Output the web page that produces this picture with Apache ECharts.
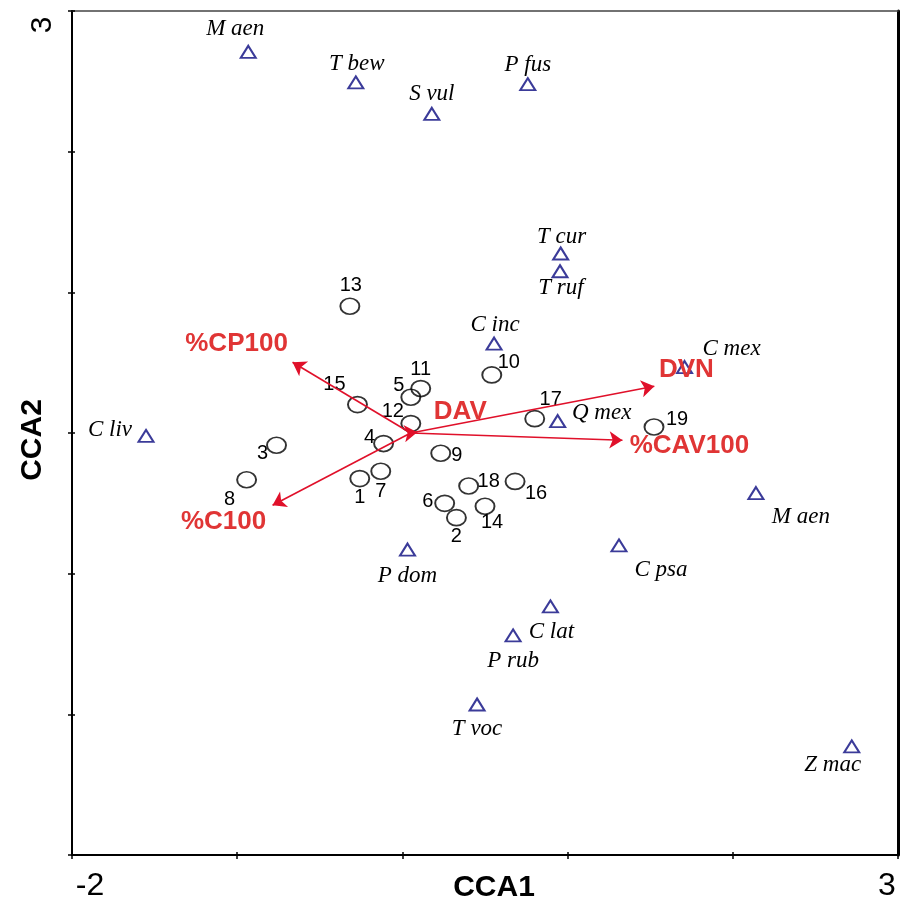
<!DOCTYPE html>
<html>
<head>
<meta charset="utf-8">
<script src="https://cdn.jsdelivr.net/npm/echarts@6/dist/echarts.min.js"></script>
<style>html,body{margin:0;padding:0;background:#fff}#chart{width:900px;height:901px}</style>
</head>
<body>
<div id="chart"></div>
<script>
// ---- data ----
const siteLabels = ['1','2','3','4','5','6','7','8','9','10','11','12','13','14','15','16','17','18','19'];
const siteCCA1 = [-0.258, 0.327, -0.762, -0.114, 0.051, 0.256, -0.131, -0.943, 0.232, 0.541, 0.111, 0.051, -0.318, 0.500, -0.272, 0.682, 0.801, 0.401, 1.523];
const siteCCA2 = [-0.324, -0.602, -0.087, -0.075, 0.254, -0.500, -0.272, -0.332, -0.144, 0.413, 0.316, 0.067, 0.901, -0.521, 0.202, -0.344, 0.102, -0.377, 0.043];

const speciesLabels = ['M aen','T bew','S vul','P fus','T cur','T ruf','C inc','Q mex','P dom','C mex','M aen','C psa','C liv','C lat','P rub','T voc','Z mac'];
const speciesCCA1 = [-0.933, -0.282, 0.178, 0.759, 0.958, 0.954, 0.555, 0.940, 0.031, 1.708, 2.140, 1.311, -1.552, 0.896, 0.670, 0.452, 2.720];
const speciesCCA2 = [2.710, 2.492, 2.269, 2.480, 1.276, 1.150, 0.636, 0.085, -0.829, 0.469, -0.427, -0.799, -0.021, -1.233, -1.439, -1.930, -2.228];

const envLabels = ['%CP100','%C100','DAV','DVN','%CAV100'];
const envCCA1 = [-0.665, -0.786, 0.09, 1.525, 1.332];
const envCCA2 = [0.503, -0.514, 0.005, 0.332, -0.052];
const envOrigin = [0.05, 0];

const xTickLabels = [-2, 3];
const yTickLabels = [3];

// ---- label placement (style, pixel offsets) ----
const siteLabelOffset = {
  '1':[0,19],'2':[0,19],'3':[-14,8],'4':[-14,-6],'5':[-12,-12],'6':[-17,-2],'7':[0,20],'8':[-17,20],
  '9':[16,2],'10':[17,-12],'11':[0,-19],'12':[-18,-12],'13':[1,-21],'14':[7,16],'15':[-23,-20],
  '16':[21,12],'17':[16,-19],'18':[20,-5],'19':[23,-7]
};
const speciesLabelOffset = [[-13,-23],[1,-19],[0,-20],[0,-19],[1,-17],[1,17],[1,-19],[44,-8],[0,26],[47,-18],[45,24],[42,25],[-36,-6],[1,26],[0,26],[0,24],[-19,19]];
const envLabelOffset = [[-56,-18],[-49,17],[43,-20],[32,-16],[67,6]];

const RED_LINE = '#e0102a';
const RED_TEXT = '#e03535';
const NAVY = '#0a0a80';

const chart = echarts.init(document.getElementById('chart'), null, {renderer:'canvas'});

const siteData = siteLabels.map((n,i)=>({
  name:n, value:[siteCCA1[i], siteCCA2[i]],
  label:{offset: siteLabelOffset[n]}
}));
const speciesData = speciesLabels.map((n,i)=>({
  name:n, value:[speciesCCA1[i], speciesCCA2[i]],
  label:{offset: speciesLabelOffset[i]}
}));
const arrowData = envLabels.map((n,i)=>({
  name:n, coords:[envOrigin, [envCCA1[i], envCCA2[i]]]
}));
const envLabelData = envLabels.map((n,i)=>({
  name:n, value:[envCCA1[i], envCCA2[i]],
  label:{offset: envLabelOffset[i]}
}));

const baseAxisHidden = {
  axisLine:{show:false}, axisLabel:{show:false}, axisTick:{show:false}, splitLine:{show:false}
};
const noBorder = {textBorderWidth:0, textBorderColor:'transparent', textShadowBlur:0, opacity:1};

const option = {
  animation:false,
  backgroundColor:'#fff',
  grid:{left:72, right:2, top:11, bottom:46, containLabel:false, outerBoundsMode:'none'},
  xAxis:[
    {
      type:'value', min:-2, max:3, interval:1, position:'bottom',
      name:'CCA1', nameLocation:'middle', nameGap:18, nameMoveOverlap:false,
      nameTextStyle:{fontFamily:'Liberation Sans', fontWeight:'bold', fontSize:30, color:'#000', padding:[0,0,0,18], verticalAlign:'top'},
      axisLine:{show:true, onZero:false, lineStyle:{color:'#000', width:2}},
      axisTick:{show:true, inside:false, length:4, lineStyle:{color:'#000', width:1.5}},
      splitLine:{show:false},
      axisLabel:{
        show:true, margin:15, showMinLabel:true, showMaxLabel:true,
        formatter:(v)=> xTickLabels.indexOf(v) === 0 ? '{l|' + v + '}' : (xTickLabels.indexOf(v) === 1 ? '{r|' + v + '}' : ''),
        rich:{
          l:{fontFamily:'Liberation Sans', fontSize:32, color:'#000', padding:[0,0,0,36]},
          r:{fontFamily:'Liberation Sans', fontSize:32, color:'#000', padding:[0,22,0,0]}
        }
      }
    },
    Object.assign({type:'value', min:-2, max:3, interval:1, position:'bottom'}, baseAxisHidden,
      {axisTick:{show:true, inside:true, length:3, lineStyle:{color:'#000', width:1.5}}, axisLine:{show:false, onZero:false}}),
    Object.assign({type:'value', min:-2, max:3, interval:1, position:'top'}, baseAxisHidden,
      {axisLine:{show:true, onZero:false, lineStyle:{color:'#444', width:1.5}}})
  ],
  yAxis:[
    {
      type:'value', min:-3, max:3, interval:1, position:'left',
      name:'CCA2', nameLocation:'middle', nameGap:24, nameRotate:90, nameMoveOverlap:false,
      nameTextStyle:{fontFamily:'Liberation Sans', fontWeight:'bold', fontSize:30, color:'#000', padding:[0,14,0,0]},
      axisLine:{show:true, onZero:false, lineStyle:{color:'#000', width:2}},
      axisTick:{show:true, inside:false, length:4, lineStyle:{color:'#000', width:1.5}},
      splitLine:{show:false},
      axisLabel:{
        show:true, rotate:90, margin:14, showMaxLabel:true,
        formatter:(v)=> yTickLabels.indexOf(v) >= 0 ? '{t|' + v + '}' : '',
        rich:{t:{fontFamily:'Liberation Sans', fontSize:30, color:'#000', padding:[0,28,0,0]}}
      }
    },
    Object.assign({type:'value', min:-3, max:3, interval:1, position:'left'}, baseAxisHidden,
      {axisTick:{show:true, inside:true, length:3, lineStyle:{color:'#000', width:1.5}}, axisLine:{show:false, onZero:false}}),
    Object.assign({type:'value', min:-3, max:3, interval:1, position:'right'}, baseAxisHidden,
      {axisLine:{show:true, onZero:false, lineStyle:{color:'#000', width:3}}})
  ],
  series:[
    {
      type:'scatter', name:'sites', xAxisIndex:0, yAxisIndex:0,
      symbol:'circle', symbolSize:[19,16],
      itemStyle:{color:'rgba(255,255,255,0)', borderColor:'#000', borderWidth:1.8},
      label:Object.assign({show:true, position:'inside', formatter:'{b}', align:'center', verticalAlign:'middle',
        fontFamily:'Liberation Sans', fontSize:20, color:'#000'}, noBorder),
      data:siteData, z:3
    },
    {
      type:'scatter', name:'species', xAxisIndex:0, yAxisIndex:0,
      symbol:'triangle', symbolSize:[15,12],
      itemStyle:{color:'rgba(255,255,255,0)', borderColor:NAVY, borderWidth:2},
      label:Object.assign({show:true, position:'inside', formatter:'{b}', align:'center', verticalAlign:'middle',
        fontFamily:'Liberation Serif', fontStyle:'italic', fontSize:23, color:'#000'}, noBorder),
      data:speciesData, z:3
    },
    {
      type:'lines', name:'env', coordinateSystem:'cartesian2d', xAxisIndex:0, yAxisIndex:0,
      symbol:['none','arrow'], symbolSize:[0,13],
      lineStyle:{color:RED_LINE, width:1.6, opacity:1, curveness:0},
      itemStyle:{color:RED_LINE},
      data:arrowData, z:4
    },
    {
      type:'scatter', name:'envLabels', xAxisIndex:0, yAxisIndex:0,
      symbolSize:0, silent:true,
      itemStyle:{color:'rgba(0,0,0,0)'},
      label:Object.assign({show:true, position:'inside', formatter:'{b}', align:'center', verticalAlign:'middle',
        fontFamily:'Liberation Sans', fontWeight:'bold', fontSize:26, color:RED_TEXT}, noBorder),
      data:envLabelData, z:5
    }
  ]
};
chart.setOption(option);
</script>
</body>
</html>
